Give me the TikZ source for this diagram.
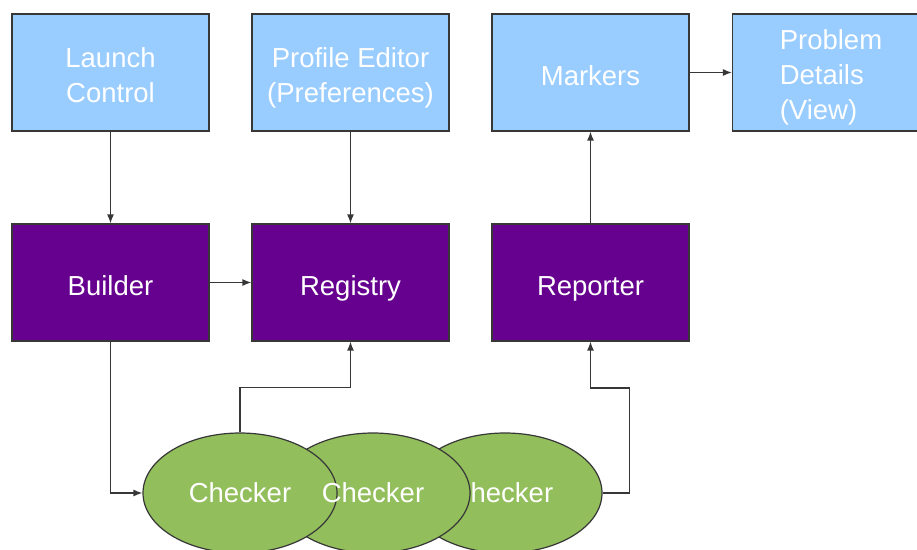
\documentclass[tikz,border=0pt]{standalone}
\usepackage{fontspec}
\setmainfont{Liberation Sans}
\usetikzlibrary{shapes.geometric,arrows.meta}

\begin{document}
\begin{tikzpicture}[x=1pt,y=1pt,
  ui/.style={draw=lineColor,line width=1.2pt,fill=uiColor,text=white,minimum width=197,minimum height=117,inner sep=0pt,align=center,text depth=0pt,execute at begin node={\rule{0pt}{26pt}},font=\fontsize{27.5}{35}\selectfont},
  core/.style={ui,fill=coreColor},
  chk/.style={ellipse,draw=lineColor,line width=1.2pt,fill=chkColor,text=white,minimum width=194,minimum height=120,inner sep=0pt,font=\fontsize{27.5}{35}\selectfont},
  link/.style={draw=lineColor,line width=1.3pt,-{Latex[length=9pt,width=7pt]}}]
\definecolor{uiColor}{RGB}{153,204,255}
\definecolor{coreColor}{RGB}{102,0,143}
\definecolor{chkColor}{RGB}{146,190,92}
\definecolor{lineColor}{RGB}{55,55,55}
\path[use as bounding box,fill=white] (0,0) rectangle (917,549);

% top row
\node[ui] (launch) at (110.5,476.5) {\rule{0pt}{26pt}Launch\\Control};
\node[ui] (profile) at (350.5,476.5) {\rule{0pt}{26pt}Profile Editor\\(Preferences)};
\node[ui] (markers) at (590.5,476.5) {Markers};
\node[ui,align=left] (details) at (831,476.5) {\rule{0pt}{24pt}Problem\\Details\\(View)};

% middle row
\node[core] (builder) at (110.5,266.5) {Builder};
\node[core] (registry) at (350.5,266.5) {Registry};
\node[core] (reporter) at (590.5,266.5) {Reporter};

% checkers
\node[chk] (chk3) at (505,56) {\hspace{-6pt}Checker};
\node[chk] (chk2) at (373,56) {};
\node[chk] (chk1) at (240,56) {Checker};
\node[text=white,inner sep=0pt,font=\fontsize{27.5}{35}\selectfont] (chk2txt) at (chk2) {Checker};

\draw[link] (launch) -- (builder);
\draw[link] (profile) -- (registry);
\draw[link] (builder) -- (registry);
\draw[link] (reporter) -- (markers);
\draw[link] (markers) -- (details);
\draw[link] (builder.south) |- (chk1.west);
\draw[link] (chk1.north) -- ++(0,45) -| (registry.south);
\draw[link] (chk3.east) -| ++(27,105) -| (reporter.south);
\end{tikzpicture}
\end{document}
